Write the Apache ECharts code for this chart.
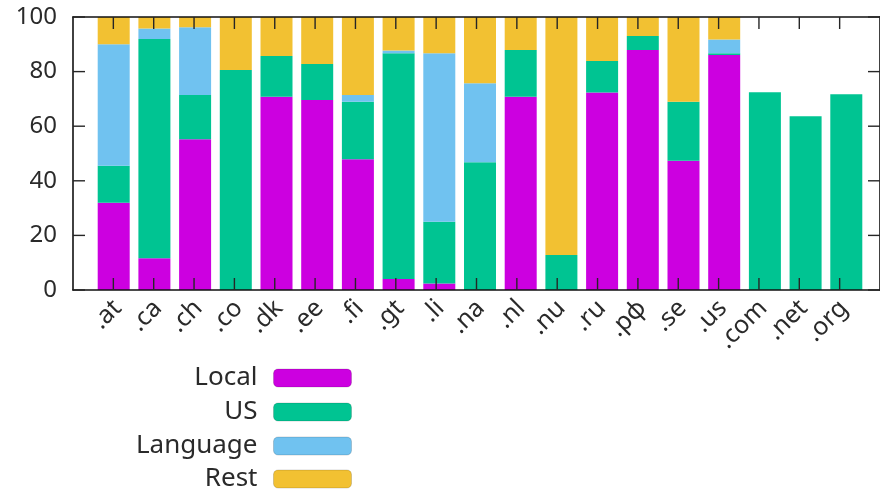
<!DOCTYPE html>
<html>
<head>
<meta charset="utf-8">
<script src="https://cdn.jsdelivr.net/npm/echarts@6/dist/echarts.min.js"></script>
<style>
  html, body { margin: 0; padding: 0; background: #fff; }
  #chart { width: 880px; height: 490px; }
</style>
</head>
<body>
<div id="chart"></div>
<script>
// Share of traffic per top-level domain, split by origin (percent)
const categories = ['.at', '.ca', '.ch', '.co', '.dk', '.ee', '.fi', '.gt', '.li', '.na',
                    '.nl', '.nu', '.ru', '.рф', '.se', '.us', '.com', '.net', '.org'];
const localShare    = [32.0, 11.6, 55.2, 0.0, 70.8, 69.6, 47.9, 4.0, 2.4, 0.0,
                       70.8, 0.0, 72.3, 87.9, 47.3, 86.1, 0, 0, 0];
const usShare       = [13.5, 80.3, 16.2, 80.6, 14.9, 13.2, 21.1, 82.7, 22.6, 46.8,
                       17.1, 12.8, 11.6, 5.1, 21.7, 0.6, 72.4, 63.6, 71.7];
const languageShare = [44.5, 3.9, 24.8, 0.0, 0.0, 0.0, 2.4, 1.0, 61.7, 28.9,
                       0.0, 0.0, 0.0, 0.0, 0.0, 5.1, 0, 0, 0];
const restShare     = [10.0, 4.2, 3.8, 19.4, 14.3, 17.2, 28.6, 12.3, 13.3, 24.3,
                       12.1, 87.2, 16.1, 7.0, 31.0, 8.2, 0, 0, 0];
const yTicks = [0, 20, 40, 60, 80, 100];

const seriesDefs = [
  { name: 'Local', values: localShare, color: '#cc00e0' },
  { name: 'US', values: usShare, color: '#00c492' },
  { name: 'Language', values: languageShare, color: '#70c2f0' },
  { name: 'Rest', values: restShare, color: '#f2c132' }
];

const FONT = '"Noto Sans", sans-serif';
const TEXT = '#2a2a2a';
const TICK_LEN = 12;
const TICK_STYLE = { stroke: '#262626', lineWidth: 1.4 };
const chart = echarts.init(document.getElementById('chart'), null, { renderer: 'canvas' });

// Frame: x runs from -1 to 19 (one slot per domain), 40.7 px per slot
const FRAME_LEFT = 73, SLOT = 40.7, X_MIN = -1, X_MAX = 19;
const frameWidth = SLOT * (X_MAX - X_MIN);
const barsLeft = FRAME_LEFT + SLOT * (0 - X_MIN - 0.5);
const barsWidth = SLOT * categories.length;
const Y_MIN = yTicks[0], Y_MAX = yTicks[yTicks.length - 1];

function axisLine() {
  return { show: true, onZero: false, lineStyle: { color: '#111', width: 1.6 } };
}

const legendTops = [365, 399, 433, 466];

chart.setOption({
  animation: false,
  backgroundColor: '#fff',
  grid: [
    { left: FRAME_LEFT, width: frameWidth, top: 17, bottom: 200, containLabel: false },
    { left: barsLeft, width: barsWidth, top: 17, bottom: 200, containLabel: false }
  ],
  xAxis: [
    {
      gridIndex: 0, type: 'value', min: X_MIN, max: X_MAX, interval: 1, position: 'bottom',
      z: 10,
      axisLine: axisLine(),
      axisTick: { show: false },
      splitLine: { show: false },
      axisLabel: {
        rotate: 45, margin: 10, verticalAlign: 'top', lineHeight: 12,
        fontFamily: FONT, fontSize: 25, color: TEXT,
        showMinLabel: false, showMaxLabel: false,
        formatter: v => (v >= 0 && v < categories.length) ? categories[v] : ''
      }
    },
    {
      gridIndex: 0, type: 'value', min: X_MIN, max: X_MAX, interval: 1, position: 'top',
      z: 10,
      axisLine: axisLine(),
      axisTick: { show: false },
      axisLabel: { show: false },
      splitLine: { show: false }
    },
    {
      gridIndex: 1, type: 'category', data: categories, boundaryGap: true, show: false
    }
  ],
  yAxis: [
    {
      gridIndex: 0, type: 'value', min: Y_MIN, max: Y_MAX, interval: 20,
      position: 'left', z: 10,
      axisLine: axisLine(),
      axisTick: { show: false },
      splitLine: { show: false },
      axisLabel: { margin: 16, fontFamily: FONT, fontSize: 24, color: TEXT }
    },
    {
      gridIndex: 0, type: 'value', min: Y_MIN, max: Y_MAX, interval: 20,
      position: 'right', z: 10,
      axisLine: axisLine(),
      axisTick: { show: false },
      splitLine: { show: false },
      axisLabel: { show: false }
    },
    {
      gridIndex: 1, type: 'value', min: Y_MIN, max: Y_MAX, show: false
    }
  ],
  legend: seriesDefs.map((s, i) => ({
    data: [s.name],
    orient: 'vertical',
    align: 'right',
    right: 880 - 352,
    top: legendTops[i],
    padding: 0,
    itemWidth: 78,
    itemHeight: 18,
    selectedMode: false,
    itemStyle: { borderColor: 'rgba(0,0,0,0.15)', borderWidth: 1 },
    textStyle: { fontFamily: FONT, fontSize: 26, color: TEXT, padding: [0, 11, 0, 0] }
  })),
  series: seriesDefs.map(s => ({
    name: s.name,
    type: 'bar',
    stack: 'share',
    xAxisIndex: 2,
    yAxisIndex: 2,
    z: 1,
    barWidth: 32,
    itemStyle: { color: s.color },
    data: s.values
  }))
});

// Mirrored inward ticks on all four sides of the frame, placed through the axis scales
const xLeft = chart.convertToPixel({ xAxisIndex: 0 }, X_MIN);
const xRight = chart.convertToPixel({ xAxisIndex: 0 }, X_MAX);
const yBottom = chart.convertToPixel({ yAxisIndex: 0 }, Y_MIN);
const yTop = chart.convertToPixel({ yAxisIndex: 0 }, Y_MAX);
const tickMarks = [];
categories.forEach((c, i) => {
  const x = chart.convertToPixel({ xAxisIndex: 0 }, i);
  tickMarks.push({ type: 'line', shape: { x1: x, y1: yBottom, x2: x, y2: yBottom - TICK_LEN } });
  tickMarks.push({ type: 'line', shape: { x1: x, y1: yTop, x2: x, y2: yTop + TICK_LEN } });
});
yTicks.forEach(v => {
  const y = chart.convertToPixel({ yAxisIndex: 0 }, v);
  tickMarks.push({ type: 'line', shape: { x1: xLeft, y1: y, x2: xLeft + TICK_LEN, y2: y } });
  tickMarks.push({ type: 'line', shape: { x1: xRight, y1: y, x2: xRight - TICK_LEN, y2: y } });
});
chart.setOption({
  graphic: tickMarks.map(el => Object.assign(el, {
    z: 100, silent: true, style: Object.assign({}, TICK_STYLE)
  }))
});
</script>
</body>
</html>
